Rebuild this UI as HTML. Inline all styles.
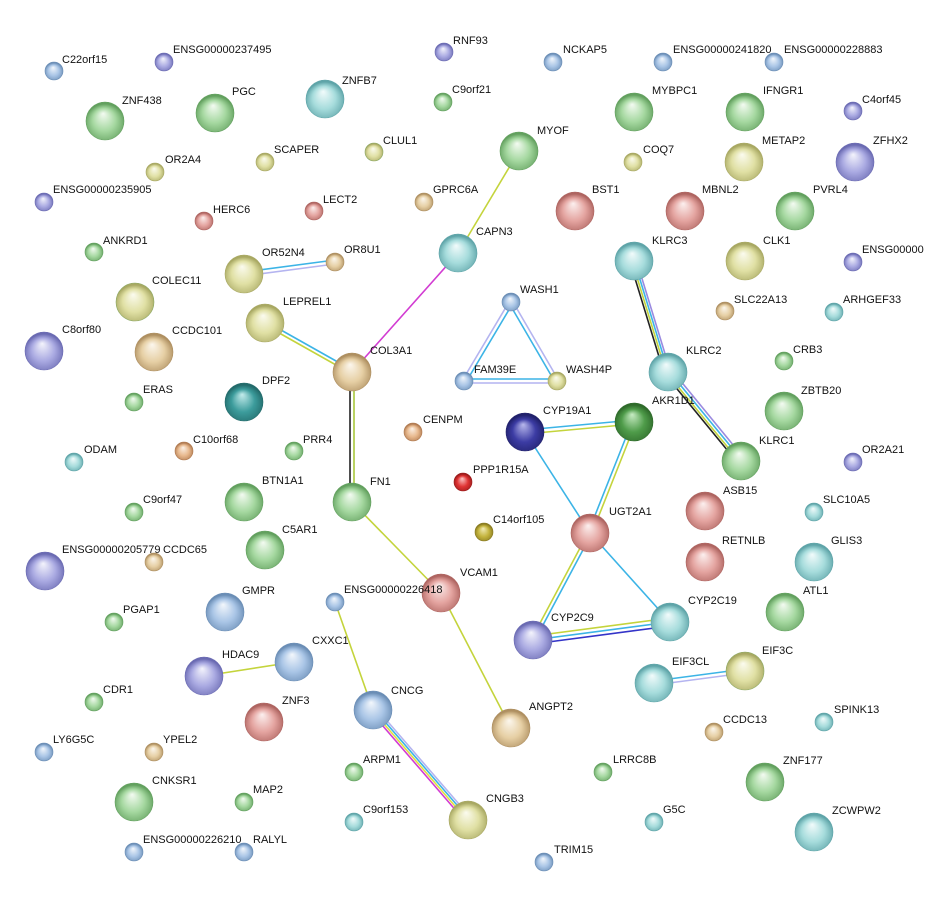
<!DOCTYPE html>
<html><head><meta charset="utf-8"><style>
html,body{margin:0;padding:0;background:#fff}
svg{display:block}
text{font-family:"Liberation Sans",sans-serif;font-size:11px;fill:#111}
</style></head><body>
<svg width="925" height="907" viewBox="0 0 925 907" xmlns="http://www.w3.org/2000/svg">
<defs>
<radialGradient id="gr" cx="50%" cy="60%" r="55%" fx="45%" fy="30%"><stop offset="0" stop-color="#f4fbf2"/><stop offset="0.55" stop-color="#a5d8a0"/><stop offset="1" stop-color="#62a05e"/></radialGradient>
<radialGradient id="bl" cx="50%" cy="60%" r="55%" fx="45%" fy="30%"><stop offset="0" stop-color="#f3f7fc"/><stop offset="0.55" stop-color="#a9c5e6"/><stop offset="1" stop-color="#6a8db5"/></radialGradient>
<radialGradient id="pu" cx="50%" cy="60%" r="55%" fx="45%" fy="30%"><stop offset="0" stop-color="#f4f4fc"/><stop offset="0.55" stop-color="#aaaae2"/><stop offset="1" stop-color="#6a6ab2"/></radialGradient>
<radialGradient id="te" cx="50%" cy="60%" r="55%" fx="45%" fy="30%"><stop offset="0" stop-color="#f2fbfb"/><stop offset="0.55" stop-color="#a6dcdc"/><stop offset="1" stop-color="#5ea4a8"/></radialGradient>
<radialGradient id="ye" cx="50%" cy="60%" r="55%" fx="45%" fy="30%"><stop offset="0" stop-color="#fbfbef"/><stop offset="0.55" stop-color="#e0e0a4"/><stop offset="1" stop-color="#a8a862"/></radialGradient>
<radialGradient id="ta" cx="50%" cy="60%" r="55%" fx="45%" fy="30%"><stop offset="0" stop-color="#fcf7ee"/><stop offset="0.55" stop-color="#e6cfa4"/><stop offset="1" stop-color="#ae8f60"/></radialGradient>
<radialGradient id="re" cx="50%" cy="60%" r="55%" fx="45%" fy="30%"><stop offset="0" stop-color="#fcf0ef"/><stop offset="0.55" stop-color="#e4a4a0"/><stop offset="1" stop-color="#ae6460"/></radialGradient>
<radialGradient id="or" cx="50%" cy="60%" r="55%" fx="45%" fy="30%"><stop offset="0" stop-color="#fcf2e8"/><stop offset="0.55" stop-color="#e8b98e"/><stop offset="1" stop-color="#b07a50"/></radialGradient>
<radialGradient id="nv" cx="50%" cy="60%" r="55%" fx="45%" fy="30%"><stop offset="0" stop-color="#b8b8ec"/><stop offset="0.55" stop-color="#3c3ca4"/><stop offset="1" stop-color="#20206a"/></radialGradient>
<radialGradient id="dg" cx="50%" cy="60%" r="55%" fx="45%" fy="30%"><stop offset="0" stop-color="#c8ecc4"/><stop offset="0.55" stop-color="#4f9c4a"/><stop offset="1" stop-color="#2e6a2a"/></radialGradient>
<radialGradient id="dt" cx="50%" cy="60%" r="55%" fx="45%" fy="30%"><stop offset="0" stop-color="#c4ecec"/><stop offset="0.55" stop-color="#3c9c9c"/><stop offset="1" stop-color="#226a6a"/></radialGradient>
<radialGradient id="ol" cx="50%" cy="60%" r="55%" fx="45%" fy="30%"><stop offset="0" stop-color="#f2ecb8"/><stop offset="0.55" stop-color="#c4b43e"/><stop offset="1" stop-color="#887a20"/></radialGradient>
<radialGradient id="rs" cx="50%" cy="60%" r="55%" fx="45%" fy="30%"><stop offset="0" stop-color="#fcc8c8"/><stop offset="0.55" stop-color="#e03434"/><stop offset="1" stop-color="#9a1a1a"/></radialGradient>
</defs>

<g fill="none" stroke-width="1.6">
<line x1="519" y1="151" x2="458" y2="253" stroke="#c4d43c"/>
<line x1="458" y1="253" x2="352" y2="372" stroke="#d23cd2"/>
<line x1="244" y1="272" x2="335" y2="260" stroke="#3cb4e6"/><line x1="244" y1="276" x2="335" y2="264" stroke="#b4b4f0"/>
<line x1="265" y1="321" x2="352" y2="370" stroke="#3cb4e6"/><line x1="265" y1="325" x2="352" y2="374" stroke="#c4d43c"/>
<line x1="350" y1="372" x2="350" y2="502" stroke="#222"/><line x1="354" y1="372" x2="354" y2="502" stroke="#a8c83c"/>
<line x1="352" y1="502" x2="441" y2="593" stroke="#c4d43c"/>
<line x1="441" y1="593" x2="511" y2="728" stroke="#c4d43c"/>
<line x1="335" y1="602" x2="373" y2="710" stroke="#c4d43c"/>
<line x1="370" y1="711" x2="465" y2="821" stroke="#d23cd2"/><line x1="372" y1="710" x2="467" y2="820" stroke="#e0e040"/><line x1="374" y1="709" x2="469" y2="819" stroke="#3cb4e6"/><line x1="376" y1="708" x2="471" y2="818" stroke="#b4b4f0"/>
<line x1="204" y1="676" x2="294" y2="662" stroke="#c4d43c"/>
<line x1="509" y1="302" x2="462" y2="381" stroke="#b4b4f0"/><line x1="513" y1="303" x2="466" y2="382" stroke="#3cb4e6"/>
<line x1="509" y1="303" x2="555" y2="382" stroke="#3cb4e6"/><line x1="513" y1="302" x2="559" y2="381" stroke="#b4b4f0"/>
<line x1="464" y1="379" x2="557" y2="379" stroke="#3cb4e6"/><line x1="464" y1="383" x2="557" y2="383" stroke="#b4b4f0"/>
<line x1="630" y1="262" x2="664" y2="373" stroke="#222"/><line x1="632" y1="261" x2="666" y2="372" stroke="#c4d43c"/><line x1="634" y1="260" x2="668" y2="371" stroke="#3cb4e6"/><line x1="636" y1="259" x2="670" y2="370" stroke="#9a8ae0"/>
<line x1="664" y1="373" x2="737" y2="462" stroke="#222"/><line x1="666" y1="372" x2="739" y2="461" stroke="#c4d43c"/><line x1="668" y1="370" x2="741" y2="459" stroke="#3cb4e6"/><line x1="670" y1="368" x2="743" y2="457" stroke="#9a8ae0"/>
<line x1="525" y1="430" x2="634" y2="420" stroke="#3cb4e6"/><line x1="525" y1="434" x2="634" y2="424" stroke="#c4d43c"/>
<line x1="525" y1="432" x2="590" y2="533" stroke="#3cb4e6"/>
<line x1="632" y1="422" x2="588" y2="533" stroke="#3cb4e6"/><line x1="636" y1="422" x2="592" y2="533" stroke="#c4d43c"/>
<line x1="588" y1="533" x2="531" y2="640" stroke="#c4d43c"/><line x1="592" y1="533" x2="535" y2="640" stroke="#3cb4e6"/>
<line x1="590" y1="533" x2="670" y2="622" stroke="#3cb4e6"/>
<line x1="533" y1="636" x2="670" y2="618" stroke="#c4d43c"/><line x1="533" y1="640" x2="670" y2="622" stroke="#3cb4e6"/><line x1="533" y1="644" x2="670" y2="626" stroke="#3434c8"/>
<line x1="654" y1="681" x2="745" y2="669" stroke="#3cb4e6"/><line x1="654" y1="685" x2="745" y2="673" stroke="#b4b4f0"/>
</g>

<g stroke-width="0.6">
<!-- small nodes -->
<circle cx="54" cy="71" r="9" fill="url(#bl)" stroke="#6a8db5"/>
<circle cx="164" cy="62" r="9" fill="url(#pu)" stroke="#6a6ab2"/>
<circle cx="444" cy="52" r="9" fill="url(#pu)" stroke="#6a6ab2"/>
<circle cx="553" cy="62" r="9" fill="url(#bl)" stroke="#6a8db5"/>
<circle cx="663" cy="62" r="9" fill="url(#bl)" stroke="#6a8db5"/>
<circle cx="774" cy="62" r="9" fill="url(#bl)" stroke="#6a8db5"/>
<circle cx="443" cy="102" r="9" fill="url(#gr)" stroke="#62a05e"/>
<circle cx="853" cy="111" r="9" fill="url(#pu)" stroke="#6a6ab2"/>
<circle cx="155" cy="172" r="9" fill="url(#ye)" stroke="#a8a862"/>
<circle cx="265" cy="162" r="9" fill="url(#ye)" stroke="#a8a862"/>
<circle cx="374" cy="152" r="9" fill="url(#ye)" stroke="#8aa862"/>
<circle cx="633" cy="162" r="9" fill="url(#ye)" stroke="#a8a862"/>
<circle cx="44" cy="202" r="9" fill="url(#pu)" stroke="#6a6ab2"/>
<circle cx="204" cy="221" r="9" fill="url(#re)" stroke="#ae6460"/>
<circle cx="314" cy="211" r="9" fill="url(#re)" stroke="#ae6460"/>
<circle cx="424" cy="202" r="9" fill="url(#ta)" stroke="#ae8f60"/>
<circle cx="94" cy="252" r="9" fill="url(#gr)" stroke="#62a05e"/>
<circle cx="335" cy="262" r="9" fill="url(#ta)" stroke="#ae8f60"/>
<circle cx="853" cy="262" r="9" fill="url(#pu)" stroke="#6a6ab2"/>
<circle cx="725" cy="311" r="9" fill="url(#ta)" stroke="#ae8f60"/>
<circle cx="834" cy="312" r="9" fill="url(#te)" stroke="#5ea4a8"/>
<circle cx="511" cy="302" r="9" fill="url(#bl)" stroke="#6a8db5"/>
<circle cx="464" cy="381" r="9" fill="url(#bl)" stroke="#6a8db5"/>
<circle cx="557" cy="381" r="9" fill="url(#ye)" stroke="#a8a862"/>
<circle cx="784" cy="361" r="9" fill="url(#gr)" stroke="#62a05e"/>
<circle cx="134" cy="402" r="9" fill="url(#gr)" stroke="#62a05e"/>
<circle cx="413" cy="432" r="9" fill="url(#or)" stroke="#b07a50"/>
<circle cx="184" cy="451" r="9" fill="url(#or)" stroke="#b07a50"/>
<circle cx="294" cy="451" r="9" fill="url(#gr)" stroke="#62a05e"/>
<circle cx="74" cy="462" r="9" fill="url(#te)" stroke="#5ea4a8"/>
<circle cx="853" cy="462" r="9" fill="url(#pu)" stroke="#6a6ab2"/>
<circle cx="463" cy="482" r="9" fill="url(#rs)" stroke="#9a1a1a"/>
<circle cx="134" cy="512" r="9" fill="url(#gr)" stroke="#62a05e"/>
<circle cx="814" cy="512" r="9" fill="url(#te)" stroke="#5ea4a8"/>
<circle cx="484" cy="532" r="9" fill="url(#ol)" stroke="#887a20"/>
<circle cx="154" cy="562" r="9" fill="url(#ta)" stroke="#ae8f60"/>
<circle cx="335" cy="602" r="9" fill="url(#bl)" stroke="#6a8db5"/>
<circle cx="114" cy="622" r="9" fill="url(#gr)" stroke="#62a05e"/>
<circle cx="94" cy="702" r="9" fill="url(#gr)" stroke="#62a05e"/>
<circle cx="714" cy="732" r="9" fill="url(#ta)" stroke="#ae8f60"/>
<circle cx="824" cy="722" r="9" fill="url(#te)" stroke="#5ea4a8"/>
<circle cx="44" cy="752" r="9" fill="url(#bl)" stroke="#6a8db5"/>
<circle cx="154" cy="752" r="9" fill="url(#ta)" stroke="#ae8f60"/>
<circle cx="354" cy="772" r="9" fill="url(#gr)" stroke="#62a05e"/>
<circle cx="603" cy="772" r="9" fill="url(#gr)" stroke="#62a05e"/>
<circle cx="244" cy="802" r="9" fill="url(#gr)" stroke="#62a05e"/>
<circle cx="354" cy="822" r="9" fill="url(#te)" stroke="#5ea4a8"/>
<circle cx="654" cy="822" r="9" fill="url(#te)" stroke="#5ea4a8"/>
<circle cx="134" cy="852" r="9" fill="url(#bl)" stroke="#6a8db5"/>
<circle cx="244" cy="852" r="9" fill="url(#bl)" stroke="#6a8db5"/>
<circle cx="544" cy="862" r="9" fill="url(#bl)" stroke="#6a8db5"/>
<!-- large nodes -->
<circle cx="105" cy="121" r="19" fill="url(#gr)" stroke="#62a05e"/>
<circle cx="215" cy="113" r="19" fill="url(#gr)" stroke="#62a05e"/>
<circle cx="325" cy="99" r="19" fill="url(#te)" stroke="#5ea4a8"/>
<circle cx="519" cy="151" r="19" fill="url(#gr)" stroke="#62a05e"/>
<circle cx="634" cy="112" r="19" fill="url(#gr)" stroke="#62a05e"/>
<circle cx="745" cy="112" r="19" fill="url(#gr)" stroke="#62a05e"/>
<circle cx="855" cy="162" r="19" fill="url(#pu)" stroke="#6a6ab2"/>
<circle cx="744" cy="162" r="19" fill="url(#ye)" stroke="#a8a862"/>
<circle cx="575" cy="211" r="19" fill="url(#re)" stroke="#ae6460"/>
<circle cx="685" cy="211" r="19" fill="url(#re)" stroke="#ae6460"/>
<circle cx="795" cy="211" r="19" fill="url(#gr)" stroke="#62a05e"/>
<circle cx="458" cy="253" r="19" fill="url(#te)" stroke="#5ea4a8"/>
<circle cx="634" cy="261" r="19" fill="url(#te)" stroke="#5ea4a8"/>
<circle cx="745" cy="261" r="19" fill="url(#ye)" stroke="#a8a862"/>
<circle cx="244" cy="274" r="19" fill="url(#ye)" stroke="#a8a862"/>
<circle cx="135" cy="302" r="19" fill="url(#ye)" stroke="#8aa862"/>
<circle cx="265" cy="323" r="19" fill="url(#ye)" stroke="#a8a862"/>
<circle cx="44" cy="351" r="19" fill="url(#pu)" stroke="#6a6ab2"/>
<circle cx="154" cy="352" r="19" fill="url(#ta)" stroke="#ae8f60"/>
<circle cx="352" cy="372" r="19" fill="url(#ta)" stroke="#ae8f60"/>
<circle cx="668" cy="372" r="19" fill="url(#te)" stroke="#5ea4a8"/>
<circle cx="244" cy="402" r="19" fill="url(#dt)" stroke="#226a6a"/>
<circle cx="784" cy="411" r="19" fill="url(#gr)" stroke="#62a05e"/>
<circle cx="634" cy="422" r="19" fill="url(#dg)" stroke="#2e6a2a"/>
<circle cx="525" cy="432" r="19" fill="url(#nv)" stroke="#20206a"/>
<circle cx="741" cy="461" r="19" fill="url(#gr)" stroke="#62a05e"/>
<circle cx="244" cy="502" r="19" fill="url(#gr)" stroke="#62a05e"/>
<circle cx="352" cy="502" r="19" fill="url(#gr)" stroke="#62a05e"/>
<circle cx="705" cy="511" r="19" fill="url(#re)" stroke="#ae6460"/>
<circle cx="590" cy="533" r="19" fill="url(#re)" stroke="#ae6460"/>
<circle cx="265" cy="550" r="19" fill="url(#gr)" stroke="#62a05e"/>
<circle cx="705" cy="562" r="19" fill="url(#re)" stroke="#ae6460"/>
<circle cx="814" cy="562" r="19" fill="url(#te)" stroke="#5ea4a8"/>
<circle cx="45" cy="571" r="19" fill="url(#pu)" stroke="#6a6ab2"/>
<circle cx="441" cy="593" r="19" fill="url(#re)" stroke="#ae6460"/>
<circle cx="225" cy="612" r="19" fill="url(#bl)" stroke="#6a8db5"/>
<circle cx="785" cy="612" r="19" fill="url(#gr)" stroke="#62a05e"/>
<circle cx="533" cy="640" r="19" fill="url(#pu)" stroke="#6a6ab2"/>
<circle cx="670" cy="622" r="19" fill="url(#te)" stroke="#5ea4a8"/>
<circle cx="294" cy="662" r="19" fill="url(#bl)" stroke="#6a8db5"/>
<circle cx="204" cy="676" r="19" fill="url(#pu)" stroke="#6a6ab2"/>
<circle cx="654" cy="683" r="19" fill="url(#te)" stroke="#5ea4a8"/>
<circle cx="745" cy="671" r="19" fill="url(#ye)" stroke="#8aa862"/>
<circle cx="264" cy="722" r="19" fill="url(#re)" stroke="#ae6460"/>
<circle cx="373" cy="710" r="19" fill="url(#bl)" stroke="#6a8db5"/>
<circle cx="511" cy="728" r="19" fill="url(#ta)" stroke="#ae8f60"/>
<circle cx="765" cy="782" r="19" fill="url(#gr)" stroke="#62a05e"/>
<circle cx="134" cy="802" r="19" fill="url(#gr)" stroke="#62a05e"/>
<circle cx="468" cy="820" r="19" fill="url(#ye)" stroke="#a8a862"/>
<circle cx="814" cy="832" r="19" fill="url(#te)" stroke="#5ea4a8"/>
</g>

<g>
<text x="62" y="63">C22orf15</text>
<text x="173" y="53">ENSG00000237495</text>
<text x="453" y="44">RNF93</text>
<text x="563" y="53">NCKAP5</text>
<text x="673" y="53">ENSG00000241820</text>
<text x="784" y="53">ENSG00000228883</text>
<text x="452" y="93">C9orf21</text>
<text x="862" y="103">C4orf45</text>
<text x="165" y="163">OR2A4</text>
<text x="274" y="153">SCAPER</text>
<text x="383" y="144">CLUL1</text>
<text x="643" y="153">COQ7</text>
<text x="53" y="193">ENSG00000235905</text>
<text x="213" y="213">HERC6</text>
<text x="323" y="203">LECT2</text>
<text x="433" y="193">GPRC6A</text>
<text x="103" y="244">ANKRD1</text>
<text x="344" y="253">OR8U1</text>
<text x="862" y="253">ENSG00000</text>
<text x="734" y="303">SLC22A13</text>
<text x="843" y="303">ARHGEF33</text>
<text x="520" y="293">WASH1</text>
<text x="474" y="373">FAM39E</text>
<text x="566" y="373">WASH4P</text>
<text x="793" y="353">CRB3</text>
<text x="143" y="393">ERAS</text>
<text x="423" y="423">CENPM</text>
<text x="193" y="443">C10orf68</text>
<text x="303" y="443">PRR4</text>
<text x="84" y="453">ODAM</text>
<text x="862" y="453">OR2A21</text>
<text x="473" y="473">PPP1R15A</text>
<text x="143" y="503">C9orf47</text>
<text x="823" y="503">SLC10A5</text>
<text x="493" y="523">C14orf105</text>
<text x="163" y="553">CCDC65</text>
<text x="344" y="593">ENSG00000226418</text>
<text x="123" y="613">PGAP1</text>
<text x="103" y="693">CDR1</text>
<text x="723" y="723">CCDC13</text>
<text x="834" y="713">SPINK13</text>
<text x="53" y="743">LY6G5C</text>
<text x="163" y="743">YPEL2</text>
<text x="363" y="763">ARPM1</text>
<text x="613" y="763">LRRC8B</text>
<text x="253" y="793">MAP2</text>
<text x="363" y="813">C9orf153</text>
<text x="663" y="813">G5C</text>
<text x="143" y="843">ENSG00000226210</text>
<text x="253" y="843">RALYL</text>
<text x="554" y="853">TRIM15</text>

<text x="122" y="104">ZNF438</text>
<text x="232" y="95">PGC</text>
<text x="342" y="84">ZNFB7</text>
<text x="537" y="134">MYOF</text>
<text x="652" y="94">MYBPC1</text>
<text x="763" y="94">IFNGR1</text>
<text x="873" y="144">ZFHX2</text>
<text x="762" y="144">METAP2</text>
<text x="592" y="193">BST1</text>
<text x="702" y="193">MBNL2</text>
<text x="813" y="193">PVRL4</text>
<text x="476" y="235">CAPN3</text>
<text x="652" y="244">KLRC3</text>
<text x="763" y="244">CLK1</text>
<text x="262" y="256">OR52N4</text>
<text x="152" y="284">COLEC11</text>
<text x="283" y="305">LEPREL1</text>
<text x="62" y="333">C8orf80</text>
<text x="172" y="334">CCDC101</text>
<text x="370" y="354">COL3A1</text>
<text x="686" y="354">KLRC2</text>
<text x="262" y="384">DPF2</text>
<text x="801" y="394">ZBTB20</text>
<text x="652" y="404">AKR1D1</text>
<text x="543" y="414">CYP19A1</text>
<text x="759" y="444">KLRC1</text>
<text x="262" y="484">BTN1A1</text>
<text x="370" y="485">FN1</text>
<text x="723" y="494">ASB15</text>
<text x="609" y="515">UGT2A1</text>
<text x="282" y="533">C5AR1</text>
<text x="722" y="544">RETNLB</text>
<text x="831" y="544">GLIS3</text>
<text x="62" y="553">ENSG00000205779</text>
<text x="460" y="576">VCAM1</text>
<text x="242" y="594">GMPR</text>
<text x="803" y="594">ATL1</text>
<text x="551" y="621">CYP2C9</text>
<text x="688" y="604">CYP2C19</text>
<text x="312" y="644">CXXC1</text>
<text x="222" y="658">HDAC9</text>
<text x="672" y="665">EIF3CL</text>
<text x="762" y="654">EIF3C</text>
<text x="282" y="704">ZNF3</text>
<text x="391" y="694">CNCG</text>
<text x="529" y="710">ANGPT2</text>
<text x="783" y="764">ZNF177</text>
<text x="152" y="784">CNKSR1</text>
<text x="486" y="802">CNGB3</text>
<text x="832" y="814">ZCWPW2</text>
</g>
</svg>
</body></html>
